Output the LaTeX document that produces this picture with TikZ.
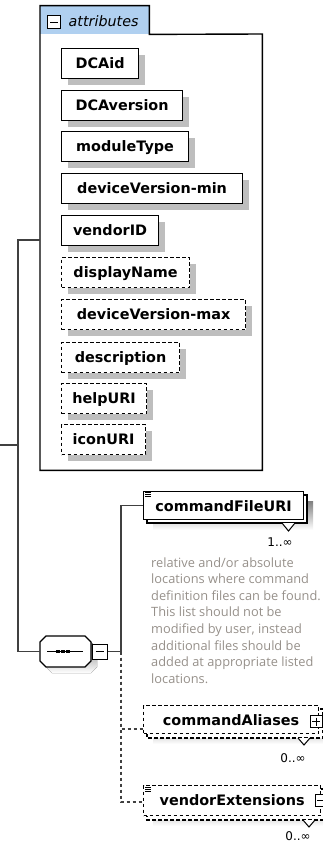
\documentclass[tikz,border=0pt]{standalone}
\usepackage{fontspec}
\usetikzlibrary{shadows}
\newfontfamily\lblfont{DejaVu Sans}
\newfontfamily\annfont{Open Sans}
\definecolor{tabblue}{RGB}{176,208,240}
\definecolor{shade}{RGB}{190,190,190}
\definecolor{conncol}{RGB}{64,64,64}
\definecolor{anncol}{RGB}{150,144,138}
\begin{document}
\begin{tikzpicture}[x=1pt,y=-1pt,
  conn/.style={draw=conncol, line width=1.2pt},
  dconn/.style={conn, dash pattern=on 3.5pt off 2.5pt},
  dashbox/.style={dash pattern=on 3.5pt off 2.5pt},
  boxline/.style={draw=black, line width=1.2pt},
  lblfnt/.style={font=\lblfont\bfseries\fontsize{14.4}{17}\selectfont},
  elem/.style={boxline, fill=white, anchor=north west, inner sep=0pt,
    minimum width=#1, minimum height=30pt, text height=20pt, text depth=10pt, lblfnt,
    general shadow={fill=shade, shadow xshift=6pt, shadow yshift=-6pt}},
  optelem/.style={elem=#1, dashbox},
  multi/.style={boxline, fill=white, anchor=north west, inner sep=0pt,
    minimum width=#1, minimum height=28pt, text height=20pt, text depth=8pt, lblfnt},
  xbox/.style={draw=black, line width=1pt, fill=white, inner sep=0pt},
  mult/.style={font=\lblfont\fontsize{12}{14}\selectfont, inner sep=0pt},
  ann/.style={font=\annfont\fontsize{12.8}{16}\selectfont, text=anncol, inner sep=0pt, anchor=base west}
]
\useasboundingbox (0,0) rectangle (323,843);

% attributes container
\node[fill=tabblue, anchor=north west, minimum width=109pt, minimum height=28.3pt, inner sep=0pt] (attrtab) at (40,5.7) {};
\node[anchor=north west, minimum width=222pt, minimum height=436pt, inner sep=0pt] (attrbox) at (40,34) {};
\draw[line width=1.4pt] (attrbox.south west) -- (attrtab.north west) -- (attrtab.north east)
  -- (attrtab.south east) -- (attrbox.north east) -- (attrbox.south east) -- cycle;
\node[xbox, minimum size=13pt] (tabexp) at (54,22.5) {};
\draw[line width=1pt] (50,22.5) -- (58,22.5);
\node[anchor=base west, inner sep=0pt, font=\lblfont\itshape\fontsize{14.3}{17}\selectfont] (tablbl) at (68.5,27) {attributes};

% attributes
\node[elem=77pt] (dcaid) at (61,48) {DCAid};
\node[elem=121pt] (dcaver) at (61,90) {DCAversion};
\node[elem=127pt] (modtype) at (61,131) {moduleType};
\node[elem=181pt] (devmin) at (61,173) {deviceVersion-min};
\node[elem=97pt] (vendor) at (61,215) {vendorID};
\node[optelem=128pt] (dispname) at (61,257) {displayName};
\node[optelem=184pt] (devmax) at (61,299) {deviceVersion-max};
\node[optelem=118pt] (descr) at (61,342) {description};
\node[optelem=85pt] (help) at (61,383) {helpURI};
\node[optelem=84pt] (icon) at (61,424) {iconURI};

% sequence compositor
\node[minimum width=51pt, minimum height=31pt, inner sep=0pt] (seq) at (65.5,651.5) {};
\fill[shade, shift={(6,6)}] (46,636) -- (85,636) -- (91,642) -- (91,661) -- (85,667) -- (46,667) -- (40,661) -- (40,642) -- cycle;
\draw[boxline, fill=white] (46,636) -- (85,636) -- (91,642) -- (91,661) -- (85,667) -- (46,667) -- (40,661) -- (40,642) -- cycle;
\draw[line width=1.2pt] (47,651.5) -- (83,651.5);
\foreach \d in {58,63,68} \fill (\d-1.8,649.7) rectangle (\d+1.8,653.3);
\node[xbox, minimum size=15pt] (seqexp) at (99.5,651.5) {};
\draw[line width=1pt] (95.5,651.5) -- (103.5,651.5);

% commandFileURI
\fill[shade] (153,501) rectangle (313,530);
\draw[boxline, fill=white] (147,495) rectangle (307,523);
\node[multi=160pt] (cfu) at (143,491) {commandFileURI};
\foreach \yy in {492.8,494.8,496.8} \draw[line width=0.8pt] (145,\yy) -- (151,\yy);
\draw[line width=1pt, fill=white] (282,523) -- (288.5,531) -- (295,523);
\node[mult] (cfumult) at (280,542) {1..∞};

% annotation
\foreach [count=\i from 0] \t in {relative and/or absolute, locations where command,
  definition files can be found., This list should not be, {modified by user, instead},
  additional files should be, added at appropriate listed, locations.}
  \node[ann] (ann\i) at (151,567+16.6*\i) {\t};

% commandAliases
\fill[shade] (153,715) rectangle (329,744);
\draw[boxline, dashbox, fill=white] (147,709) rectangle (323,738);
\node[multi=175pt, dashbox] (cal) at (143,705) {commandAliases};
\node[xbox, minimum size=12pt] (calexp) at (316,721.5) {};
\draw[line width=1pt] (312,721.5) -- (320,721.5) (316,717.5) -- (316,725.5);
\draw[line width=1pt, fill=white] (298,738) -- (304,745) -- (310,738);
\node[mult] (calmult) at (293,758) {0..∞};

% vendorExtensions
\fill[shade] (153,795) rectangle (330,826);
\draw[boxline, dashbox, fill=white] (147,789) rectangle (324,820);
\node[multi=177pt, dashbox, minimum height=30pt, text depth=10pt] (vex) at (143,785) {vendorExtensions};
\foreach \yy in {787,789,791} \draw[line width=0.8pt] (145,\yy) -- (151,\yy);
\node[xbox, minimum size=12pt] (vexexp) at (321,800) {};
\draw[line width=1pt] (317,800) -- (325,800);
\draw[line width=1pt, fill=white] (303,820) -- (309,827) -- (315,820);
\node[mult] (vexmult) at (298,836) {0..∞};

% connectors
\coordinate (root) at (0,445);
\coordinate (trunk) at (18,445);
\coordinate (attrIn) at (40,240);
\coordinate (branch) at (121,651.5);
\coordinate (calIn) at (143,729);
\coordinate (vexIn) at (143,802);
\draw[conn] (root) -- (trunk);
\draw[conn] (attrIn) -- (18,240) -- (18,651.5) -- (seq.west);
\draw[conn] (seqexp.east) -- (branch) |- (cfu.west);
\draw[dconn] (branch) |- (calIn);
\draw[dconn] (branch) |- (vexIn);
\end{tikzpicture}
\end{document}
